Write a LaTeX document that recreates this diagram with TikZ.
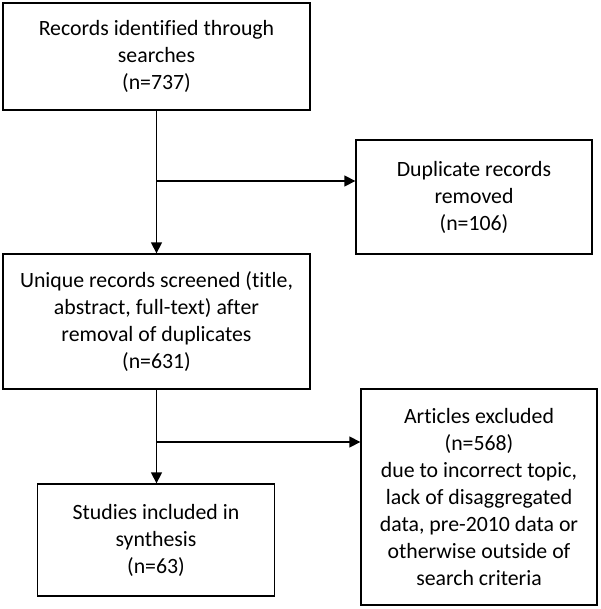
\documentclass[tikz,border=0pt]{standalone}
\usepackage{fontspec}
\setmainfont{Carlito}[Ligatures=NoCommon]
\usetikzlibrary{arrows.meta}

\tikzset{
  stagebox/.style={draw, line width=1.3pt, align=center, inner sep=0pt,
    font=\fontsize{21.8}{27}\selectfont},
  flow/.style={line width=1.3pt, -{Triangle[length=11pt,width=11pt]}}
}

\begin{document}
\begin{tikzpicture}[x=1pt, y=1pt]
\useasboundingbox (0, 0) rectangle (600, -609);

\node [stagebox, minimum width=307pt, minimum height=107pt] (search) at (156.5, -56.5)
  {Records identified through\\searches\\(n=737)};
\node [stagebox, minimum width=236pt, minimum height=114pt] (dupes) at (474, -197)
  {Duplicate records\\removed\\(n=106)};
\node [stagebox, minimum width=307pt, minimum height=135pt] (screen) at (156.5, -321.5)
  {Unique records screened (title,\\abstract, full-text) after\\removal of duplicates\\(n=631)};
\node [stagebox, minimum width=237pt, minimum height=112pt] (incl) at (156, -540)
  {Studies included in\\synthesis\\(n=63)};
\node [stagebox, minimum width=236pt, minimum height=216pt] (excl) at (479, -497)
  {Articles excluded\\(n=568)\\due to incorrect topic,\\lack of disaggregated\\data, pre-2010 data or\\otherwise outside of\\search criteria};

\coordinate (split1) at (156.5, -181);
\coordinate (split2) at (156.5, -442);

\draw [flow] (search.south) -- (screen.north);
\draw [flow] (split1) -- (split1 -| dupes.west);
\draw [flow] (screen.south) -- (screen.south |- incl.north);
\draw [flow] (split2) -- (split2 -| excl.west);
\end{tikzpicture}
\end{document}
